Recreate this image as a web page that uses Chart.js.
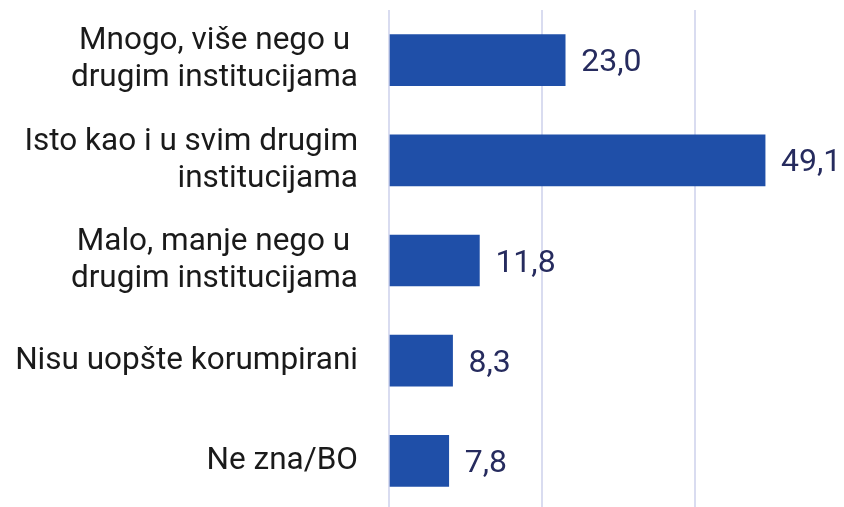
<!DOCTYPE html>
<html><head><meta charset="utf-8">
<script src="https://cdn.jsdelivr.net/npm/chart.js@4/dist/chart.umd.min.js"></script>
<style>html,body{margin:0;padding:0;background:#fff;overflow:hidden;width:844px;height:507px}#w{width:844px;height:511px;position:relative}</style>
</head><body><div id="w"><canvas id="c"></canvas></div>
<script>
const categories = [
  ["Mnogo, više nego u ", "drugim institucijama"],
  ["Isto kao i u svim drugim", "institucijama"],
  ["Malo, manje nego u ", "drugim institucijama"],
  ["Nisu uopšte korumpirani"],
  ["Ne zna/BO"]
];
const values = [23.0, 49.1, 11.8, 8.3, 7.8];
const tickValues = [0, 20, 40];

const valueLabels = {
  id: 'valueLabels',
  afterDatasetsDraw(chart) {
    const ctx = chart.ctx;
    const meta = chart.getDatasetMeta(0);
    ctx.save();
    ctx.font = '32px Roboto';
    ctx.fillStyle = '#262b5e';
    ctx.textAlign = 'left';
    ctx.textBaseline = 'alphabetic';
    meta.data.forEach((bar, i) => {
      ctx.fillText(values[i].toFixed(1).replace('.', ','), bar.x + 16, bar.y + 11);
    });
    ctx.restore();
  }
};

new Chart(document.getElementById('c'), {
  type: 'bar',
  data: {
    labels: categories,
    datasets: [{
      data: values,
      backgroundColor: '#1f4fa8',
      barThickness: 51
    }]
  },
  options: {
    indexAxis: 'y',
    responsive: true,
    maintainAspectRatio: false,
    animation: false,
    layout: { padding: { top: 10, right: 0, bottom: 0, left: 0 } },
    plugins: { legend: { display: false }, tooltip: { enabled: false } },
    scales: {
      x: {
        min: 0, max: 59.4,
        afterBuildTicks(s) { s.ticks = tickValues.map(v => ({ value: v })); },
        afterFit(s) { s.height = 0; s.paddingLeft = 0; s.paddingRight = 0; },
        ticks: { display: false },
        grid: { color: '#d9dcf0', lineWidth: 2, drawTicks: false },
        border: { display: false }
      },
      y: {
        afterFit(s) { s.width = 389; s.paddingTop = 0; s.paddingBottom = 0; },
        grid: { display: false, drawTicks: false },
        border: { display: false },
        ticks: { font: { family: 'Roboto', size: 31.5, lineHeight: '37px' }, color: '#1a1a1a', padding: 31 }
      }
    }
  },
  plugins: [valueLabels]
});
</script></body></html>
